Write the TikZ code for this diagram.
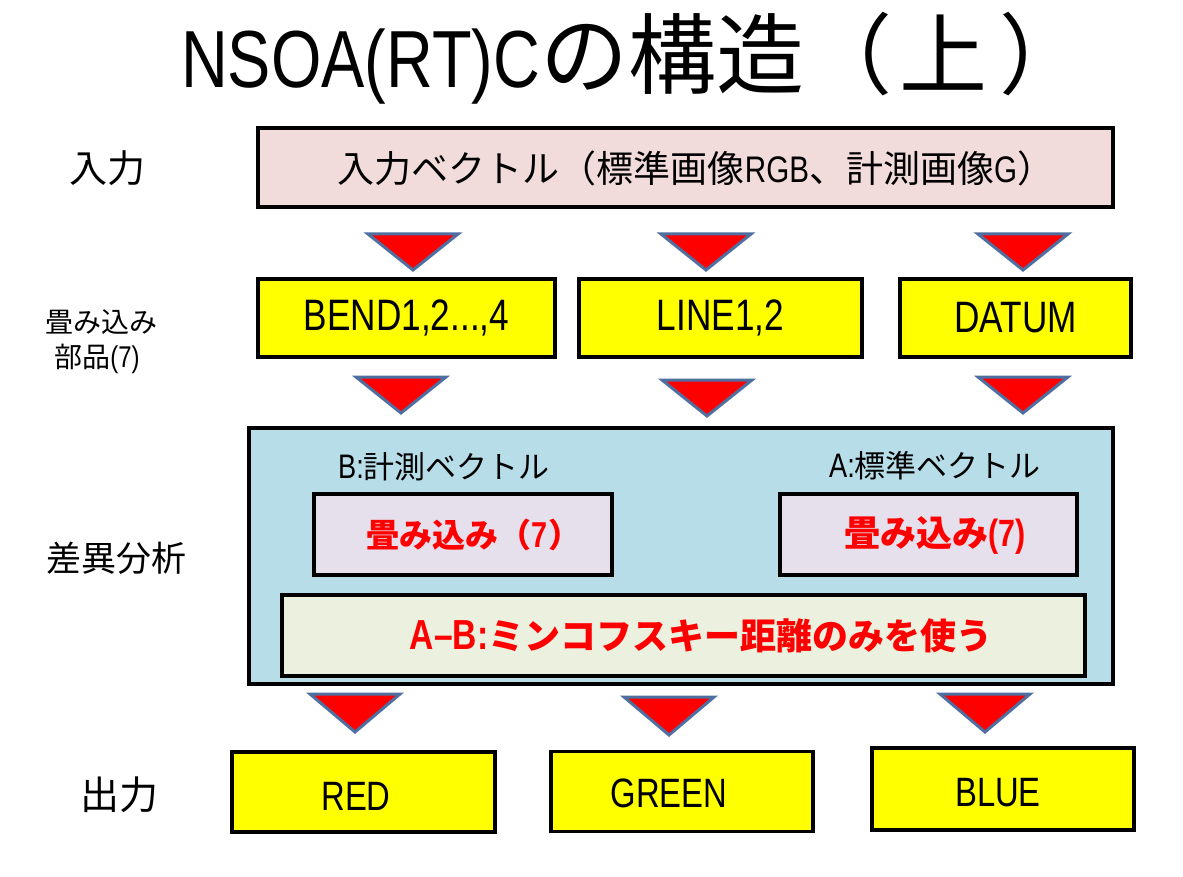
\documentclass[tikz,border=0pt]{standalone}
\usepackage{fontspec}
\setmainfont[FakeStretch=0.8]{Liberation Sans}
\newfontfamily\jp{Noto Sans CJK JP}
\newcommand\J[1]{{\jp #1}}
\newcommand\fs[1]{\fontsize{#1}{#1}\selectfont}
% Japanese run at its own size
\newcommand\JS[2]{{\fontsize{#1}{#1}\selectfont\jp #2}}

\definecolor{inpink}{HTML}{F2DCDB}
\definecolor{partyellow}{HTML}{FFFF00}
\definecolor{anablue}{HTML}{B7DDE8}
\definecolor{convlav}{HTML}{E6E0EC}
\definecolor{minkgreen}{HTML}{EBF1DE}
\definecolor{tribord}{HTML}{4F6FA0}
\definecolor{hotred}{HTML}{FF0000}

\tikzset{
  box/.style={draw=black, line width=3.5pt, inner sep=0pt, align=center},
  tri/.style={fill=hotred, draw=tribord, line width=3pt, line join=miter},
  sidelabel/.style={align=center, inner sep=0pt},
}

% downward red triangle: centre x, top y, bottom y
\newcommand\downtri[3]{\draw[tri] (#1-45,#2) -- (#1+45,#2) -- (#1,#3) -- cycle;}

\begin{document}
\begin{tikzpicture}[x=1pt,y=-1pt]
\useasboundingbox (0,0) rectangle (1183,877);

% title
\node[inner sep=0pt, anchor=west] (title) at (181,58)
  {\fs{81}NSOA(RT)C\JS{88}{の構造（\kern8pt上\kern12pt）}};

% row labels
\node[sidelabel] (lin)  at (107,168) {\JS{38}{入力}};
\node[sidelabel] (lparts1) at (101,322) {\JS{28}{畳み込み}};
\node[sidelabel] (lparts2) at (97,359) {\JS{28}{部品}\fs{30}(7)};
\node[sidelabel] (lana) at (116,558) {\JS{35}{差異分析}};
\node[sidelabel] (lout) at (119,795) {\JS{39}{出力}};

% input vector
\node[box, fill=inpink, minimum width=855pt, minimum height=79pt] (inp) at (685.5,167.5) {};
\node (inpt) at (696,168)
  {\fs{37}\J{入力ベクトル（標準画像}RGB\J{、計測画像}G\J{）}};

% convolution parts
\node[box, fill=partyellow, minimum width=297pt, minimum height=78pt] (bend) at (406.5,318) {\fs{44}BEND1,2...,4};
\node[box, fill=partyellow, minimum width=283pt, minimum height=78pt] (line) at (720.5,318) {\fs{44}LINE1,2};
\node[box, fill=partyellow, minimum width=231pt, minimum height=78pt] (datum) at (1015.5,318) {\fs{44}DATUM};

% difference analysis
\node[box, fill=anablue, minimum width=864pt, minimum height=256pt] (ana) at (681,556) {};
\node (lblB) at (444,467) {\fs{34}B:\JS{31}{計測ベクトル}};
\node (lblA) at (935,466) {\fs{34}A:\JS{31}{標準ベクトル}};
\node[box, fill=convlav, minimum width=298pt, minimum height=81pt] (convB) at (463,534.5) {};
\node (convBt) at (474,535) {\color{hotred}\bfseries\JS{33}{畳み込み（}\fs{36}7\JS{33}{）}};
\node[box, fill=convlav, minimum width=297pt, minimum height=81pt] (convA) at (928.5,534.5) {};
\node (convAt) at (935,535) {\color{hotred}\bfseries\JS{36}{畳み込み}\fs{38}(7)};
\node[box, fill=minkgreen, minimum width=803pt, minimum height=81pt] (mink) at (683.5,635.5) {};
\node (minkt) at (701,636) {\color{hotred}\bfseries\fs{42}A–B:\JS{36}{ミンコフスキー距離のみを使う}};

% outputs
\node[box, fill=partyellow, minimum width=263pt, minimum height=80pt] (ored) at (363.5,792) {};
\node[box, fill=partyellow, minimum width=262pt, minimum height=80pt] (ogreen) at (682,791.5) {};
\node[box, fill=partyellow, minimum width=262pt, minimum height=82pt] (oblue) at (1003,789) {};
\node (oredt) at (356,796) {\fs{41}RED};
\node (ogreent) at (669,793) {\fs{41}GREEN};
\node (obluet) at (998,793) {\fs{41}BLUE};

% flow triangles
\downtri{413}{234}{270}
\downtri{706}{234}{270}
\downtri{1023}{234}{270}
\downtri{401}{377}{413}
\downtri{707}{380}{416}
\downtri{1023}{377}{413}
\downtri{355}{694}{732}
\downtri{669}{697}{735}
\downtri{985}{694}{732}
\end{tikzpicture}
\end{document}
